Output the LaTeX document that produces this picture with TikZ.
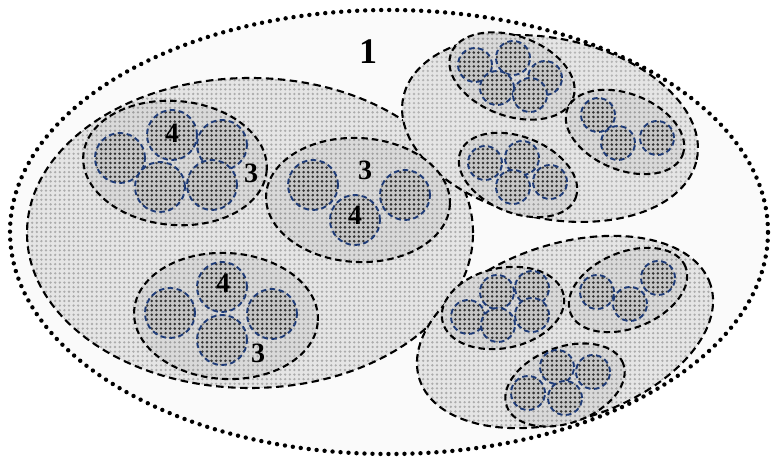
\documentclass[tikz,border=0pt]{standalone}
\usepackage{fontspec}
\setmainfont{Liberation Serif}
\usetikzlibrary{patterns.meta}
\definecolor{navy}{HTML}{1F3C78}
\tikzstyle{outer} = [draw=black, line width=4.4pt, line cap=round, dash pattern=on 0pt off 8pt, fill=black!2]
\tikzstyle{group} = [preaction={fill=gray!20}, pattern={Dots[distance=4.6pt, radius=1.3pt]}, pattern color=gray!65, draw=black, line width=2.1pt, dash pattern=on 7.5pt off 4.5pt]
\tikzstyle{subgroup} = [preaction={fill=gray!30}, pattern={Dots[distance=4.6pt, radius=1.3pt]}, pattern color=gray!75, draw=black, line width=2.1pt, dash pattern=on 6.5pt off 4pt]
\tikzstyle{cell} = [preaction={fill=gray!45}, pattern={Dots[distance=4.6pt, radius=1.4pt]}, pattern color=black!80, draw=navy, line width=1.9pt, dash pattern=on 5.5pt off 3.5pt]
\tikzstyle{level} = [font=\fontsize{28}{28}\selectfont\bfseries, inner sep=0pt]

\begin{document}
\begin{tikzpicture}[x=1pt, y=1pt]

\useasboundingbox (0,0) rectangle (771,462);

% level 1
\draw [outer] (389,230) ellipse [x radius=379, y radius=222];
\node (lab1) [level, font=\fontsize{36}{36}\selectfont\bfseries] at (368,410) {1};

% level 2
\draw [group] (250,229) ellipse [x radius=223, y radius=155];
\draw [group, fill opacity=0.85, rotate around={-12:(550,333.5)}] (550,333.5) ellipse [x radius=150, y radius=90];
\draw [group, rotate around={18:(565,130)}] (565,130) ellipse [x radius=153, y radius=88];

% level 3
\draw [subgroup, rotate around={-5:(175,299)}] (175,299) ellipse [x radius=92, y radius=62];
\draw [subgroup, rotate around={-3:(358,262)}] (358,262) ellipse [x radius=92, y radius=62];
\draw [subgroup, rotate around={-3:(226,146)}] (226,146) ellipse [x radius=92, y radius=63];
\draw [subgroup, rotate around={-20:(512,386)}] (512,386) ellipse [x radius=65, y radius=40];
\draw [subgroup, rotate around={-22:(625,330)}] (625,330) ellipse [x radius=62, y radius=38];
\draw [subgroup, rotate around={-22:(518,287)}] (518,287) ellipse [x radius=62, y radius=38];
\draw [subgroup, rotate around={12:(503,154)}] (503,154) ellipse [x radius=62, y radius=40];
\draw [subgroup, rotate around={22:(628,172)}] (628,172) ellipse [x radius=62, y radius=38];
\draw [subgroup, rotate around={20:(565,77)}] (565,77) ellipse [x radius=62, y radius=38];

% level 4
\draw [cell] (120,304) circle [radius=25];
\draw [cell] (172,327) circle [radius=25];
\draw [cell] (222,317) circle [radius=25];
\draw [cell] (160,275) circle [radius=25];
\draw [cell] (212,277) circle [radius=25];

\draw [cell] (313,277) circle [radius=25];
\draw [cell] (355,242) circle [radius=25];
\draw [cell] (405,267) circle [radius=25];

\draw [cell] (170,149) circle [radius=25];
\draw [cell] (222,175) circle [radius=25];
\draw [cell] (272,148) circle [radius=25];
\draw [cell] (222,122) circle [radius=25];

\draw [cell] (475,397) circle [radius=17];
\draw [cell] (513,404) circle [radius=17];
\draw [cell] (545,384) circle [radius=17];
\draw [cell] (497,374) circle [radius=17];
\draw [cell] (530,367) circle [radius=17];

\draw [cell] (598,347) circle [radius=17];
\draw [cell] (618,319) circle [radius=17];
\draw [cell] (657,324) circle [radius=17];

\draw [cell] (485,299) circle [radius=17];
\draw [cell] (522,304) circle [radius=17];
\draw [cell] (550,280) circle [radius=17];
\draw [cell] (513,275) circle [radius=17];

\draw [cell] (468,145) circle [radius=17];
\draw [cell] (497,170) circle [radius=17];
\draw [cell] (532,174) circle [radius=17];
\draw [cell] (498,137) circle [radius=17];
\draw [cell] (532,147) circle [radius=17];

\draw [cell] (597,170) circle [radius=17];
\draw [cell] (630,158) circle [radius=17];
\draw [cell] (658,184) circle [radius=17];

\draw [cell] (528,69) circle [radius=17];
\draw [cell] (557,95) circle [radius=17];
\draw [cell] (593,90) circle [radius=17];
\draw [cell] (565,64) circle [radius=17];

% labels
\node (labA4) [level] at (172,329) {4};
\node (labA3) [level] at (251,289) {3};
\node (labB3) [level] at (365,292) {3};
\node (labB4) [level] at (355,247) {4};
\node (labC4) [level] at (223,179) {4};
\node (labC3) [level] at (258,109) {3};

\end{tikzpicture}
\end{document}
